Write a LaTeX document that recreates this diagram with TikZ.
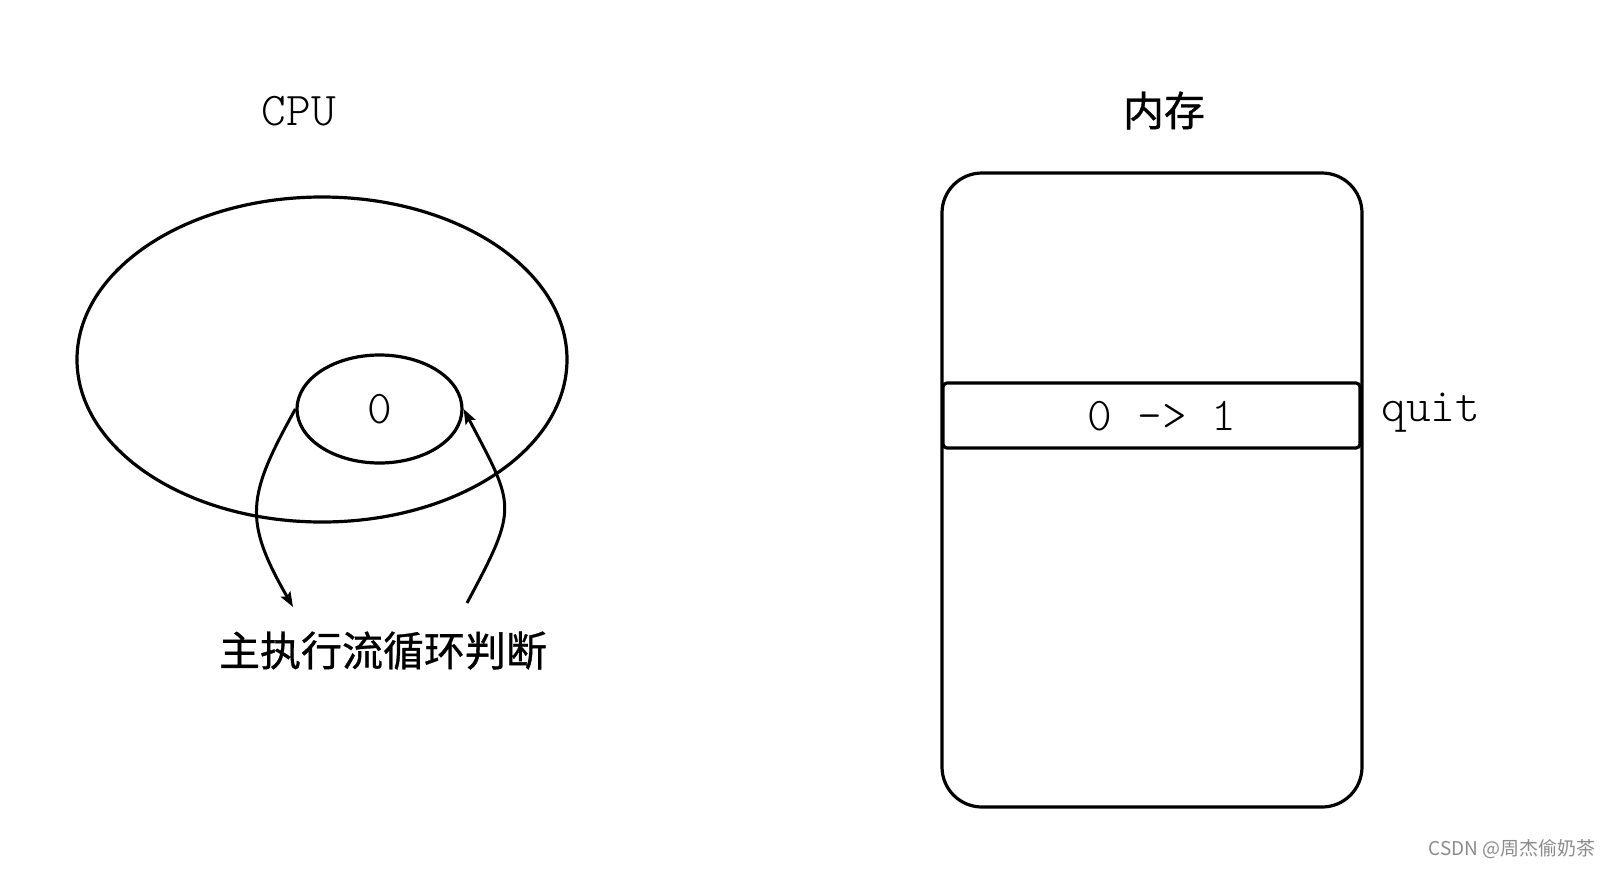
\documentclass[tikz,border=0pt]{standalone}
\usepackage{fontspec}
\newfontfamily\cjk[FakeBold=0.8]{Noto Sans CJK SC}
\newfontfamily\cjkwm{Noto Sans CJK SC}
\usetikzlibrary{shapes.geometric,arrows.meta}
\begin{document}
\begin{tikzpicture}[x=1pt,y=-1pt,
  line width=3.2pt,
  mono/.style={font=\ttfamily\fontseries{l}\fontsize{47}{55}\selectfont, inner sep=0pt},
  cjklabel/.style={font=\cjk\fontsize{41}{49}\selectfont, inner sep=0pt},
  oval/.style={draw, ellipse, inner sep=0pt},
  box/.style={draw, inner sep=0pt},
  flow/.style={-{Stealth[length=15pt,width=11pt,inset=3pt]}, line width=3pt}
]
\useasboundingbox[fill=white] (0,0) rectangle (1612,868);

% CPU side
\node[mono, anchor=base] (cpulabel) at (299,125) {CPU};
\node[oval, minimum width=490pt, minimum height=325pt] (cpu) at (322,359.5) {};
\node[oval, mono, draw, minimum width=165pt, minimum height=108pt] (zero) at (379.5,409) {0};
\node[cjklabel, anchor=base] (looplabel) at (383,666) {主执行流循环判断};

\coordinate (loopin) at (293,607);
\coordinate (loopout) at (467,603);
\draw[flow] (zero.west) .. controls (247,496) and (243,520) .. (loopin);
\draw[flow] (loopout) .. controls (519,506) and (515,507) .. (zero.east);

% memory side
\node[cjklabel, anchor=base] (memlabel) at (1164,126) {内存};
\node[box, rounded corners=40pt, minimum width=420pt, minimum height=634pt] (mem) at (1152,490) {};
\node[box, rounded corners=4pt, minimum width=417pt, minimum height=65pt] (flag) at (1151.5,415.5) {};
\node[mono, anchor=base] (flagval) at (1162,430) {0 -> 1};
\node[mono, anchor=base west] (quit) at (1380,421) {quit};

% watermark
\node[font=\cjkwm\fontsize{19}{23}\selectfont, text=black!45, anchor=base east, inner sep=0pt] (wm) at (1597,855) {CSDN @周杰偷奶茶};
\end{tikzpicture}
\end{document}
